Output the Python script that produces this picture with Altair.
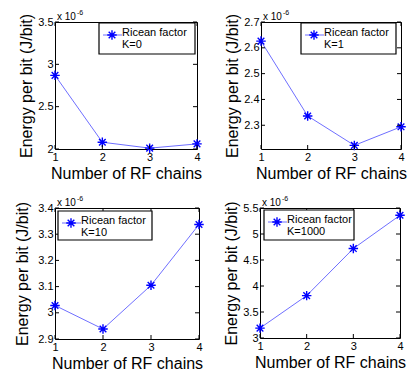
import altair as alt
import pandas as pd

# ---- data (values in units of 1e-6 J/bit) ----
chains = [1, 2, 3, 4]
energy_k0 = [2.87, 2.08, 2.01, 2.06]
energy_k1 = [2.626, 2.336, 2.222, 2.294]
energy_k10 = [3.028, 2.938, 3.105, 3.337]
energy_k1000 = [3.19, 3.815, 4.72, 5.36]
k_labels = ["K=0", "K=1", "K=10", "K=1000"]
legend_title = "Ricean factor"
y_domains = [[2.0, 3.5], [2.208, 2.7], [2.9, 3.4], [3.0, 5.5]]
y_ticks = [[2, 2.5, 3, 3.5], [2.3, 2.4, 2.5, 2.6, 2.7],
           [2.9, 3.0, 3.1, 3.2, 3.3, 3.4], [3, 3.5, 4, 4.5, 5, 5.5]]
x_ticks = [1, 2, 3, 4]
exp_base = "x 10"
exp_power = "-6"
x_title = "Number of RF chains"
y_title = "Energy per bit (J/bit)"

FONT = "Liberation Sans"
STAR = "M0,-1L0,1M-1,0L1,0M-0.7,-0.7L0.7,0.7M-0.7,0.7L0.7,-0.7"
BLUE = "#0000ff"
LINE = "#6f6fff"


def panel(values, k, dom, yt, w, h, box, ytp=3):
    df = pd.DataFrame({"chains": chains, "energy": values})
    xaxis = alt.Axis(values=x_ticks, title=x_title, format="d", labelOverlap=False,
                     labelFlush=False)
    yaxis = alt.Axis(values=yt, title=y_title, format=".1~f", labelOverlap=False,
                     labelFlush=False, titlePadding=ytp)
    xs = alt.X("chains:Q", scale=alt.Scale(domain=[1, 4], nice=False, zero=False), axis=xaxis)
    ys = alt.Y("energy:Q", scale=alt.Scale(domain=dom, nice=False, zero=False), axis=yaxis)
    line = alt.Chart(df).mark_line(color=LINE, strokeWidth=1).encode(x=xs, y=ys)
    pts = alt.Chart(df).mark_point(shape=STAR, size=90, strokeWidth=1.4,
                                   color=BLUE, filled=False, opacity=1).encode(x=xs, y=ys)

    ytdf = pd.DataFrame({"energy": yt})
    ytl = alt.Chart(ytdf).mark_rule(color="black", strokeWidth=1).encode(
        y=ys, x=alt.value(0), x2=alt.value(4))
    ytr = alt.Chart(ytdf).mark_rule(color="black", strokeWidth=1).encode(
        y=ys, x=alt.value(w - 4), x2=alt.value(w))
    xtdf = pd.DataFrame({"chains": x_ticks})
    xtb = alt.Chart(xtdf).mark_rule(color="black", strokeWidth=1).encode(
        x=xs, y=alt.value(h - 4), y2=alt.value(h))
    xtt = alt.Chart(xtdf).mark_rule(color="black", strokeWidth=1).encode(
        x=xs, y=alt.value(0), y2=alt.value(4))

    one = pd.DataFrame({"t": [legend_title + "\n" + k]})
    x0, x1, y0, y1 = box
    rect = alt.Chart(one).mark_rect(fill="white", stroke="black", strokeWidth=1.2).encode(
        x=alt.value(x0), x2=alt.value(x1), y=alt.value(y0), y2=alt.value(y1))
    lrule = alt.Chart(one).mark_rule(color=LINE, strokeWidth=1).encode(
        x=alt.value(x0 + 4), x2=alt.value(x0 + 23), y=alt.value(y0 + 12))
    lstar = alt.Chart(one).mark_point(shape=STAR, size=90, strokeWidth=1.4,
                                      color=BLUE, filled=False, opacity=1).encode(
        x=alt.value(x0 + 13), y=alt.value(y0 + 12))
    ltext = alt.Chart(one).mark_text(align="left", baseline="top", font=FONT, fontSize=11,
                                     lineBreak="\n", lineHeight=12, color="black").encode(
        text="t:N", x=alt.value(x0 + 23), y=alt.value(y0 + 4))

    e1 = alt.Chart(pd.DataFrame({"t": [exp_base]})).mark_text(
        align="left", baseline="alphabetic", font=FONT, fontSize=10, color="black").encode(
        text="t:N", x=alt.value(2), y=alt.value(-2))
    e2 = alt.Chart(pd.DataFrame({"t": [exp_power]})).mark_text(
        align="left", baseline="alphabetic", font=FONT, fontSize=7, color="black").encode(
        text="t:N", x=alt.value(22), y=alt.value(-7))

    return alt.layer(line, pts, ytl, ytr, xtb, xtt, rect, lrule, lstar, ltext, e1, e2).properties(
        width=w, height=h)


p1 = panel(energy_k0, k_labels[0], y_domains[0], y_ticks[0], 142, 127, (44, 140, 1, 32))
p2 = panel(energy_k1, k_labels[1], y_domains[1], y_ticks[1], 140, 127, (40, 135, 1, 32))
p3 = panel(energy_k10, k_labels[2], y_domains[2], y_ticks[2], 144, 131, (3, 97, 3, 32), ytp=7)
p4 = panel(energy_k1000, k_labels[3], y_domains[3], y_ticks[3], 140, 130, (4, 94, 2, 32))

row1 = alt.hconcat(p1, p2, spacing=18)
row2 = alt.hconcat(p3, p4, spacing=15)
chart = alt.vconcat(row1, row2, spacing=12).properties(
    padding={"left": 6, "top": 0, "right": 0, "bottom": 0},
    background="white"
).configure_view(stroke="black", strokeWidth=1).configure_axis(
    domain=False, ticks=False, grid=False, labelFont=FONT, labelFontSize=11,
    labelColor="black", labelPadding=2, labelOverlap=False, labelFlush=False,
    titleFont=FONT, titleFontSize=16, titleFontWeight="normal", titleColor="black",
    titlePadding=3, labelBound=False
)

chart.save("out.html", embed_options={"renderer": "svg", "actions": False})
